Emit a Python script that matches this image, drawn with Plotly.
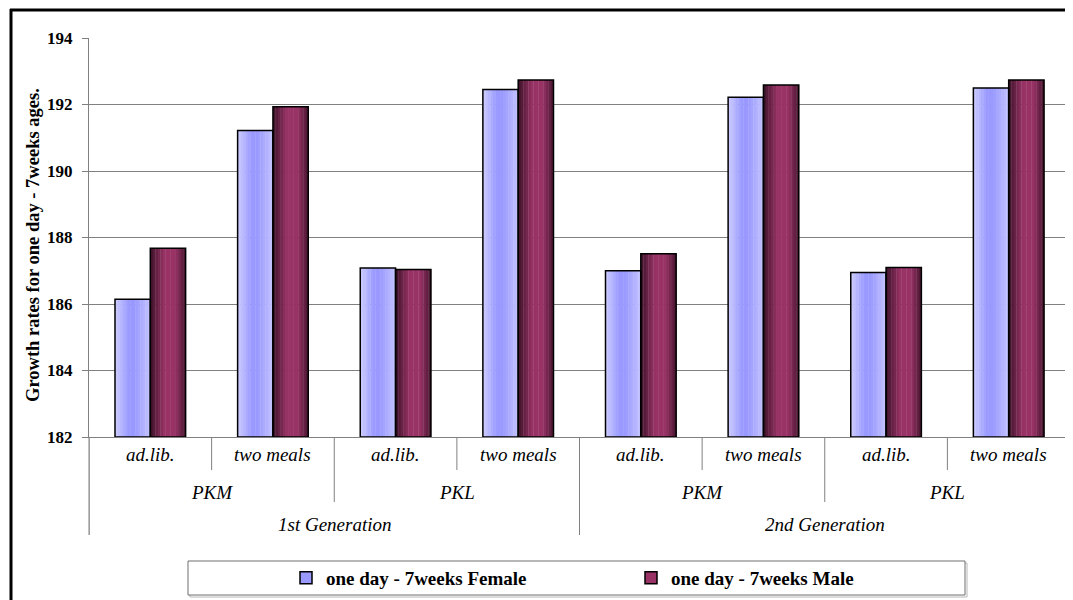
import plotly.graph_objects as go

# ---------------- data ----------------
generations = ["1st Generation", "2nd Generation"]
diets = ["PKM", "PKL"]
feeds = ["ad.lib.", "two meals"]
female = [186.14, 191.22, 187.08, 192.45, 187.00, 192.22, 186.95, 192.50]
male = [187.68, 191.93, 187.04, 192.74, 187.51, 192.59, 187.10, 192.74]
series_names = ["one day - 7weeks Female", "one day - 7weeks Male"]
y_ticks = [182, 184, 186, 188, 190, 192, 194]
y_title = "Growth rates for one day - 7weeks ages."

# category tuples (generation, diet, feed)
cats = [(g, d, f) for g in generations for d in diets for f in feeds]
xs = list(range(len(cats)))

# ---------------- geometry helpers ----------------
OFF = 8  # page body margin of the html page
W, H = 1073 - OFF, 600 - OFF
L, T = 89 - OFF, 38 - OFF
R = W - (1070 - OFF)
B = H - (437 - OFF)
PW, PH = W - L - R, H - T - B


def px_x(p):
    return (p - OFF - L) / PW


def px_y(p):
    return (H - B - (p - OFF)) / PH


SERIF = "'Times New Roman', 'Liberation Serif', serif"
GRID = "#808080"
BAR_W = 0.288


def mix(c1, c2, t):
    return "rgb(%d,%d,%d)" % tuple(round(a + (b - a) * t) for a, b in zip(c1, c2))


def female_color(t):
    light, mid = (205, 205, 255), (153, 153, 255)
    if t < 0.4:
        return mix(light, mid, t / 0.4)
    if t < 0.55:
        return mix(mid, mid, 0)
    return mix(mid, (195, 195, 255), (t - 0.55) / 0.45)


def male_color(t):
    dark, mid = (60, 18, 40), (153, 51, 102)
    if t < 0.45:
        return mix(dark, mid, min(1, t / 0.4))
    if t < 0.7:
        return mix(mid, mid, 0)
    return mix(mid, (70, 22, 46), (t - 0.7) / 0.3)


fig = go.Figure()

N = 14
for vals, base_off, cfun in [(female, -BAR_W, female_color), (male, 0.0, male_color)]:
    for k in range(N):
        t = (k + 0.5) / N
        fig.add_trace(go.Bar(
            x=xs, y=[v - 182 for v in vals], base=182,
            width=BAR_W / N * 1.15, offset=base_off + k * BAR_W / N,
            marker=dict(color=cfun(t), line=dict(width=0)),
            showlegend=False, hoverinfo="skip"))

# outline traces + legend-only traces
for vals, base_off, name, col in [(female, -BAR_W, series_names[0], "#9999FF"),
                                  (male, 0.0, series_names[1], "#993366")]:
    fig.add_trace(go.Bar(
        x=xs, y=[v - 182 for v in vals], base=182,
        width=BAR_W, offset=base_off, name=name,
        marker=dict(color="rgba(0,0,0,0)", line=dict(color="black", width=1.5)),
        showlegend=False, hoverinfo="skip"))
    fig.add_trace(go.Bar(
        x=[None], y=[None], name="<b>" + name + "</b>",
        marker=dict(color=col, line=dict(color="black", width=1.5)),
        showlegend=True))

shapes = []
annotations = []

# category dividers below the axis
levels_y = {1: px_y(470), 2: px_y(502), 3: px_y(535)}
for b in range(len(cats) + 1):
    lvl = 3 if b % 4 == 0 else (2 if b % 2 == 0 else 1)
    shapes.append(dict(type="line", xref="x", yref="paper", x0=b - 0.5, x1=b - 0.5,
                       y0=0, y1=levels_y[lvl], line=dict(color=GRID, width=1)))

lab_font = dict(family=SERIF, size=19, color="black", style="italic")
for i, (g, d, f) in enumerate(cats):
    annotations.append(dict(x=i, y=px_y(454), xref="x", yref="paper", text="<i>" + f + "</i>",
                            showarrow=False, font=lab_font, yanchor="middle"))
for j in range(len(generations) * len(diets)):
    annotations.append(dict(x=2 * j + 0.5, y=px_y(492), xref="x", yref="paper",
                            text="<i>" + diets[j % len(diets)] + "</i>", showarrow=False,
                            font=lab_font, yanchor="middle"))
for k, g in enumerate(generations):
    annotations.append(dict(x=4 * k + 1.5, y=px_y(524), xref="x", yref="paper",
                            text="<i>" + g + "</i>", showarrow=False, font=lab_font,
                            yanchor="middle"))

# y-axis title (as rotated annotation for exact placement)
annotations.append(dict(x=px_x(33), y=px_y(245), xref="paper", yref="paper",
                        text="<b>" + y_title + "</b>", textangle=-90, showarrow=False,
                        xanchor="center", yanchor="middle",
                        font=dict(family=SERIF, size=18.5, color="black")))

# outer frame (left + top thick lines)
shapes.append(dict(type="line", xref="paper", yref="paper", x0=px_x(11), x1=px_x(11),
                   y0=px_y(9), y1=px_y(620), line=dict(color="black", width=3)))
shapes.append(dict(type="line", xref="paper", yref="paper", x0=px_x(10), x1=px_x(1090),
                   y0=px_y(10), y1=px_y(10), line=dict(color="black", width=3)))

# legend box
shapes.append(dict(type="rect", xref="paper", yref="paper", x0=px_x(190), x1=px_x(967),
                   y0=px_y(563), y1=px_y(597), line=dict(color="#b8b8b8", width=1)))
shapes.append(dict(type="rect", xref="paper", yref="paper", x0=px_x(188), x1=px_x(965),
                   y0=px_y(561), y1=px_y(595), fillcolor="white",
                   line=dict(color="#6e6e6e", width=1)))

fig.update_layout(
    width=W, height=H,
    margin=dict(l=L, r=R, t=T, b=B, autoexpand=False),
    paper_bgcolor="white", plot_bgcolor="white",
    font=dict(family=SERIF, color="black"),
    barmode="overlay",
    showlegend=True,
    legend=dict(orientation="h", x=px_x(286), xanchor="left", y=px_y(578), yanchor="middle",
                font=dict(family=SERIF, size=19, color="black"),
                bgcolor="rgba(0,0,0,0)", borderwidth=0, entrywidth=300,
                traceorder="normal", itemwidth=30),
    xaxis=dict(range=[-0.5, len(cats) - 0.5], showticklabels=False, ticks="",
               showgrid=False, zeroline=False, showline=True, linecolor=GRID, linewidth=1,
               fixedrange=True),
    yaxis=dict(range=[182, 194], tickvals=y_ticks, ticktext=["<b>%d</b>" % v for v in y_ticks],
               ticks="outside", ticklen=6,
               tickcolor=GRID, showline=True, linecolor=GRID, linewidth=1,
               showgrid=True, gridcolor=GRID, gridwidth=1, zeroline=False,
               tickfont=dict(family=SERIF, size=17, color="black"),
               ticklabelstandoff=6,
               automargin=False, fixedrange=True),
    shapes=shapes,
    annotations=annotations,
)

# y-axis line extension below the plot
fig.add_shape(type="line", xref="paper", yref="paper", x0=0, x1=0, y0=0, y1=levels_y[3],
              line=dict(color=GRID, width=1))

fig.write_html("out.html")
